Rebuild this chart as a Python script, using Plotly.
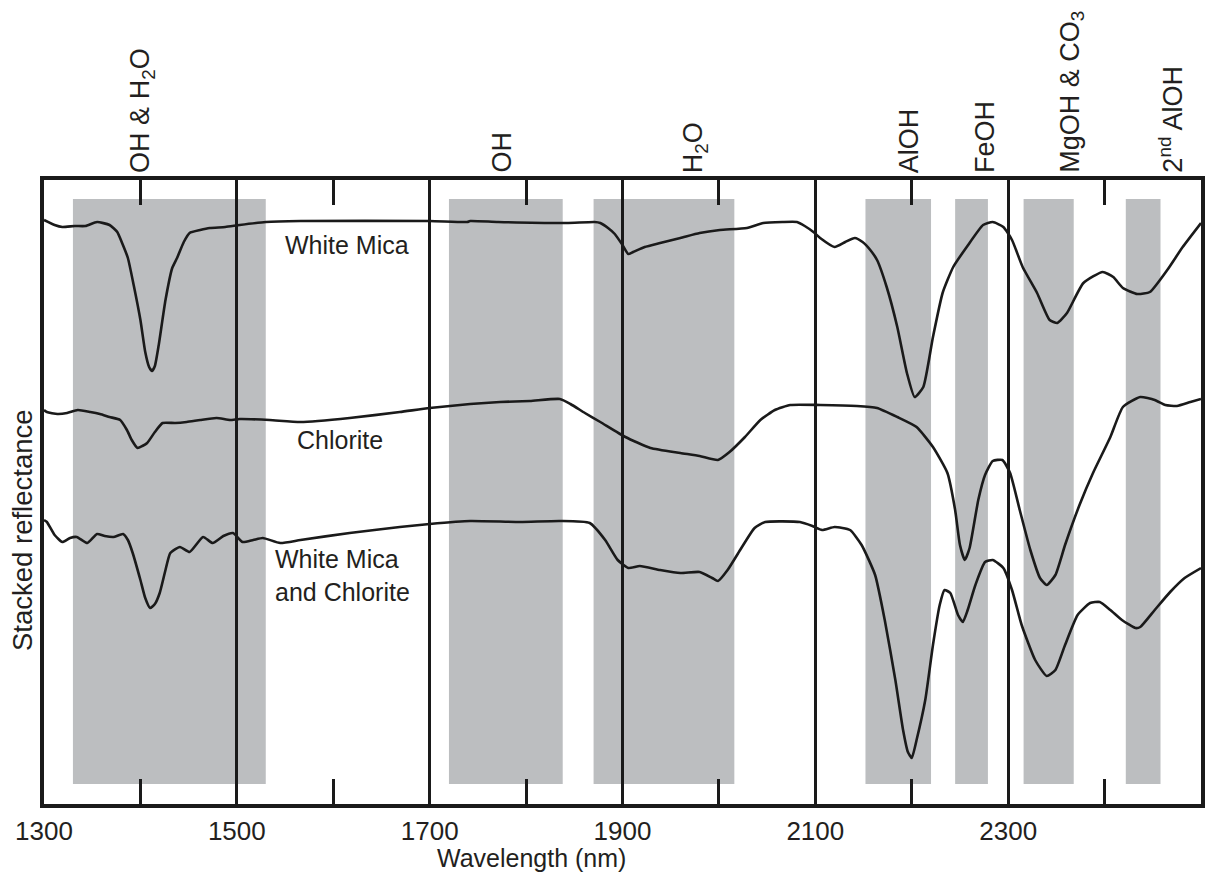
import plotly.graph_objects as go

# ---------------- data ----------------
wm_nm = [1300, 1311, 1319, 1332, 1343, 1355, 1368, 1376, 1381, 1387, 1393, 1400, 1405, 1409, 1412, 1415,
         1419, 1426, 1433, 1438, 1445, 1451, 1462, 1472, 1488, 1503, 1530, 1566, 1700, 1739, 1742, 1771,
         1842, 1871, 1877, 1885, 1892, 1900, 1906, 1911, 1923, 1939, 1960, 1980, 2001, 2029, 2046, 2066,
         2081, 2089, 2098, 2105, 2120, 2131, 2141, 2149, 2157, 2164, 2174, 2185, 2195, 2203, 2212, 2222,
         2232, 2243, 2257, 2274, 2284, 2295, 2304, 2315, 2330, 2343, 2351, 2361, 2378, 2398, 2409, 2419,
         2434, 2447, 2465, 2481, 2500]
wm_refl = [584, 579, 577, 578, 578, 582, 579, 572, 561, 546, 519, 484, 452, 437, 433, 438,
           459, 504, 536, 546, 562, 571, 574, 576, 577, 579, 582, 583, 583, 582, 583, 582,
           581, 582, 581, 576, 570, 559, 550, 552, 557, 561, 566, 571, 574, 576, 581, 582,
           582, 578, 572, 566, 557, 562, 566, 562, 554, 544, 517, 477, 431, 407, 417, 467,
           511, 537, 557, 579, 582, 577, 564, 537, 511, 484, 481, 491, 521, 532, 527, 516,
           510, 512, 534, 557, 581]

chl_nm = [1300, 1303, 1314, 1324, 1335, 1348, 1358, 1368, 1379, 1386, 1391, 1397, 1402, 1407, 1415, 1423,
          1436, 1448, 1462, 1479, 1493, 1503, 1534, 1566, 1617, 1669, 1700, 1742, 1773, 1804, 1835, 1846,
          1861, 1877, 1903, 1929, 1960, 1980, 1999, 2011, 2027, 2043, 2058, 2074, 2105, 2143, 2164, 2185,
          2205, 2222, 2237, 2245, 2250, 2255, 2260, 2269, 2276, 2284, 2294, 2302, 2312, 2323, 2333, 2340,
          2349, 2359, 2374, 2388, 2406, 2419, 2437, 2452, 2463, 2475, 2489, 2500]
chl_refl = [394, 392, 390, 391, 394, 392, 390, 387, 384, 374, 364, 356, 358, 361, 372, 381,
            381, 382, 384, 386, 384, 385, 384, 382, 386, 392, 396, 400, 402, 403, 405, 400,
            391, 382, 367, 356, 351, 348, 344, 352, 367, 384, 394, 399, 399, 398, 396, 387,
            377, 357, 331, 294, 259, 244, 256, 304, 329, 343, 344, 331, 294, 254, 226, 219,
            229, 259, 299, 331, 367, 397, 407, 404, 399, 398, 402, 405]

mix_nm = [1300, 1303, 1311, 1319, 1327, 1334, 1345, 1355, 1363, 1372, 1382, 1387, 1392, 1400, 1405, 1410,
          1415, 1420, 1426, 1431, 1441, 1451, 1465, 1475, 1486, 1496, 1506, 1517, 1527, 1545, 1566, 1617,
          1669, 1700, 1742, 1794, 1835, 1866, 1882, 1895, 1906, 1918, 1939, 1960, 1980, 1993, 1999, 2009,
          2022, 2037, 2048, 2084, 2097, 2107, 2120, 2136, 2148, 2162, 2172, 2183, 2191, 2196, 2200, 2205,
          2214, 2222, 2229, 2234, 2240, 2248, 2253, 2258, 2266, 2276, 2284, 2295, 2304, 2314, 2328, 2340,
          2349, 2359, 2372, 2385, 2395, 2406, 2418, 2432, 2437, 2452, 2468, 2483, 2500]
mix_refl = [284, 282, 269, 262, 266, 267, 261, 270, 268, 267, 270, 264, 251, 224, 206, 196,
            200, 211, 234, 251, 257, 252, 267, 261, 268, 271, 262, 264, 266, 261, 264, 271,
            277, 280, 283, 282, 283, 281, 264, 244, 236, 238, 234, 231, 232, 226, 223, 234,
            254, 276, 282, 282, 278, 274, 277, 274, 259, 229, 184, 124, 74, 52, 46, 64,
            104, 159, 199, 214, 211, 189, 182, 194, 219, 242, 244, 236, 214, 179, 144, 128,
            134, 159, 189, 201, 202, 194, 184, 176, 177, 194, 212, 226, 236]

# absorption feature bands (nm)
band_start = [1330, 1720, 1870, 2152, 2245, 2316, 2422]
band_end = [1530, 1838, 2016, 2220, 2279, 2368, 2458]
band_bottom, band_top = 20, 605

# feature labels on top
feat_labels = ["OH &amp; H<sub>2</sub>O", "OH", "H<sub>2</sub>O", "AlOH", "FeOH",
               "MgOH &amp; CO<sub>3</sub>", "2<sup>nd</sup> AlOH"]
feat_pos = [1401, 1774, 1975, 2197, 2276, 2366, 2468]

major_ticks = [1300, 1500, 1700, 1900, 2100, 2300, 2500]
minor_ticks = [1400, 1600, 1800, 2000, 2200, 2400]

FONT = "Liberation Sans, Arial, sans-serif"
TXT = "#231f20"

fig = go.Figure()

for nm, r in [(wm_nm, wm_refl), (chl_nm, chl_refl), (mix_nm, mix_refl)]:
    fig.add_trace(go.Scatter(x=nm, y=r, mode="lines",
                             line=dict(color="#1a1a1a", width=2.6, shape="spline", smoothing=0.5),
                             showlegend=False, hoverinfo="skip"))

# invisible trace for the top axis
fig.add_trace(go.Scatter(x=[1300, 2500], y=[0, 0], xaxis="x2", mode="markers",
                         marker=dict(opacity=0), showlegend=False, hoverinfo="skip"))

for s, e in zip(band_start, band_end):
    fig.add_shape(type="rect", xref="x", yref="y", x0=s, x1=e, y0=band_bottom, y1=band_top,
                  fillcolor="#bcbec0", line=dict(width=0), layer="below")

for lab, p in zip(feat_labels, feat_pos):
    fig.add_annotation(x=p, xref="x", y=1, yref="paper", yanchor="bottom", xanchor="center",
                       yshift=5, text=lab, textangle=-90, showarrow=False,
                       font=dict(family=FONT, size=27, color=TXT))

fig.add_annotation(x=1548, y=559, xref="x", yref="y", text="White Mica", xanchor="left",
                   showarrow=False, font=dict(family=FONT, size=25, color=TXT))
fig.add_annotation(x=1560, y=364, xref="x", yref="y", text="Chlorite", xanchor="left",
                   showarrow=False, font=dict(family=FONT, size=25, color=TXT))
fig.add_annotation(x=1537, y=229, xref="x", yref="y", text="White Mica<br>and Chlorite",
                   xanchor="left", align="left", showarrow=False,
                   font=dict(family=FONT, size=25, color=TXT))

fig.add_annotation(x=1806, xref="x", y=0, yref="paper", yshift=-54, yanchor="middle",
                   text="Wavelength (nm)", showarrow=False,
                   font=dict(family=FONT, size=25, color=TXT))
fig.add_annotation(x=0, xref="paper", xshift=-22, y=274, yref="y", xanchor="center",
                   text="Stacked reflectance", textangle=-90, showarrow=False,
                   font=dict(family=FONT, size=27.5, color=TXT))

fig.update_layout(
    width=1226, height=873,
    margin=dict(l=44, r=25, t=180, b=69),
    paper_bgcolor="white", plot_bgcolor="white",
    xaxis=dict(range=[1300, 2500], tickvals=major_ticks, ticktext=[str(t) for t in major_ticks],
               ticks="", showgrid=True, gridcolor="#1a1a1a", gridwidth=3,
               showline=True, linecolor="#1a1a1a", linewidth=4, mirror=True,
               zeroline=False, ticklabelstandoff=1,
               tickfont=dict(family=FONT, size=26, color=TXT),
               minor=dict(tickvals=minor_ticks, ticks="inside", ticklen=25, tickwidth=3,
                          tickcolor="#1a1a1a", showgrid=False)),
    xaxis2=dict(range=[1300, 2500], overlaying="x", side="top", showticklabels=False,
                tickvals=minor_ticks, ticks="inside", ticklen=25, tickwidth=3,
                tickcolor="#1a1a1a", showgrid=False, zeroline=False, showline=False),
    yaxis=dict(range=[0, 624], showticklabels=False, ticks="", showgrid=False, zeroline=False,
               showline=True, linecolor="#1a1a1a", linewidth=4, mirror=True),
)

fig.write_html("out.html")
